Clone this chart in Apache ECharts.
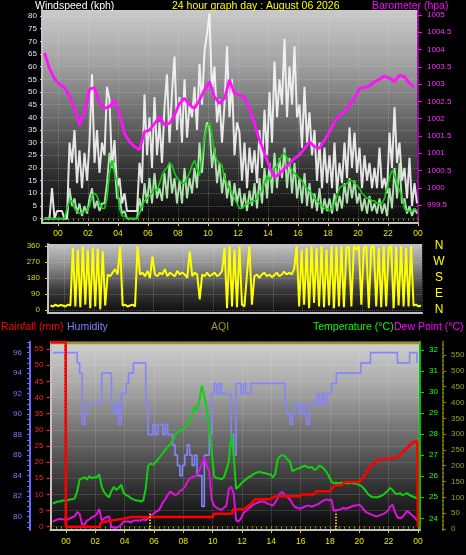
<!DOCTYPE html>
<html><head><meta charset="utf-8">
<script src="https://cdn.jsdelivr.net/npm/echarts@6/dist/echarts.min.js"></script>
<style>html,body{margin:0;padding:0;background:#000;}#c{width:466px;height:555px;}</style>
</head><body><div id="c"></div>
<script>
// ---------- tick labels ----------
const hourTicks = [0,2,4,6,8,10,12,14,16,18,20,22,24];
const windTicks = [0,5,10,15,20,25,30,35,40,45,50,55,60,65,70,75,80];
const baroTicks = [999.5,1000,1000.5,1001,1001.5,1002,1002.5,1003,1003.5,1004,1004.5,1005];
const dirTicks = [0,90,180,270,360];
const compass = ['N','E','S','W','N'];
const humTicks = [80,82,84,86,88,90,92,94,96];
const rainTicks = [0,5,10,15,20,25,30,35,40,45,50,55];
const tempTicks = [24,25,26,27,28,29,30,31,32];
const aqiTicks = [0,50,100,150,200,250,300,350,400,450,500,550];

// ---------- data (10-minute samples from t = -0.9 h) ----------
const sampleStart = -0.9, sampleStep = 1/6;
const windGust = [
0,0,0,12,0,3, 3,3,0,0,30,22, 35,14,27,12,26,15, 30,57,22,35,18,30, 25,52,47,20,31,12,
16,6,10,3,3,3, 3,3,22,14,49,25, 40,20,48,25,38,22, 44,57,30,50,64,35, 48,30,55,32,45,40,
52,35,61,45,66,73, 81,50,60,38,47,30, 45,68,40,55,25,38, 34,15,30,12,28,18, 27,14,35,20,43,25,
50,30,62,40,55,45, 71,40,60,45,68,40, 45,28,52,30,42,25, 35,15,30,12,28,14, 25,12,30,10,22,14,
30,16,36,20,34,18, 28,12,25,15,22,12, 20,12,28,12,16,10, 34,20,44,22,30,15, 20,8,24,5,14,6];
const windSpeed = [
0,0,0,0,0,0, 0,0,0,0,12,5, 8,2,6,1,5,2, 8,12,4,7,3,6, 6,14,26,20,22,8,
8,2,3,0,0,0, 0,0,8,3,14,6, 16,6,18,8,12,7, 18,8,22,10,16,6, 15,6,20,8,16,10,
20,12,30,18,32,38, 36,20,28,14,22,10, 18,8,15,5,14,6, 12,4,10,3,11,5, 14,4,16,6,20,8,
22,10,26,12,24,16, 28,12,24,10,22,8, 16,6,18,5,14,4, 10,3,12,2,8,3, 8,2,10,3,9,4,
14,6,16,8,15,6, 10,3,8,2,9,3, 6,2,8,2,6,1, 12,4,20,8,22,6, 8,2,5,1,4,2];
const windAvg = [
0,0,0,0,0,0, 0,0,0,4,7,7, 4,3,2,2,3,3, 5,9,10,9,6,4, 4,8,18,23,18,14,
4,1,1,0,0,0, 0,0,2,5,7,8, 9,10,12,11,14,17, 19,20,22,21,18,16, 15,14,14,16,18,21,
23,20,17,24,32,36, 38,33,26,23,22,21, 16,14,12,10,8,6, 4,4,5,6,6,7, 7,8,10,11,14,17,
15,17,20,21,23,25, 26,24,21,19,18,17, 16,15,13,12,11,10, 8,7,6,5,4,4, 3,4,6,9,12,13,
13,14,15,15,14,13, 12,10,9,8,8,7, 7,6,6,6,8,12, 16,19,17,14,11,9, 4,3,3,3,4,3];
const windDir = [
25,20,30,22,28,25, 20,30,25,350,20,340, 15,355,30,340,10,350, 20,345,5,330,25,200, 190,210,230,200,360,25,
30,20,25,30,20,360, 200,210,190,220,180,300, 200,190,210,200,230,190, 210,200,190,220,200,210, 200,180,330,190,210,200,
60,200,190,210,190,200, 210,190,200,220,350,10, 360,20,340,15,360,30, 20,200,360,30,190,200, 180,200,210,190,200,185,
195,210,190,200,215,200, 210,200,230,360,20,340, 30,350,10,360,40,350, 20,360,15,340,25,360, 10,355,20,360,15,350,
355,20,360,340,360,30, 350,360,10,355,360,20, 350,15,360,20,350,360, 10,355,25,360,20,350, 20,360,25,30,20,25];
const humidity = [
96,96,96,96,96,96, 96,96,96,96,95,94, 89,90,91,91,91,91, 91,91,94,94,94,94, 91,90,91,89,92,92,
93,94,94,95,95,95, 95,95,91,88,88,89, 88,89,89,88,89,88, 88,87,86,85,84,85, 86,87,86,85,86,84,
84,81,86,86,88,92, 93,92,93,92,92,92, 92,88,86,93,93,92, 93,92,92,93,93,93, 93,93,93,93,93,93,
93,93,93,93,93,91, 90,89,90,91,91,90, 91,90,89,91,91,91, 92,91,92,91,92,92, 93,93,94,94,94,94,
94,94,94,94,94,94, 95,95,95,95,96,96, 96,96,96,96,96,96, 96,96,96,95,95,95, 95,95,96,96,96,95];
const temperature = [
24.7,24.75,24.8,24.8,24.85,24.85, 24.85,24.9,24.9,24.95,25.3,25.85, 25.9,25.95,25.85,26.0,25.9,25.95,
25.95,26.1,25.5,25.25,25.1,25.0, 25.3,25.5,25.35,25.45,25.6,25.2, 25.1,25.05,24.95,24.9,24.85,24.85,
24.8,24.85,25.4,26.5,26.6,26.55, 26.65,26.8,26.95,27.1,27.25,27.4, 27.5,27.7,27.95,28.1,28.15,28.2,
28.3,28.45,28.6,28.95,29.3,29.15, 29.6,30.3,29.8,29.2,28.3,27.2, 26.0,25.9,25.9,25.85,25.95,26.3,
26.7,28.0,27.0,25.4,25.5,25.65, 25.75,25.85,25.95,26.0,26.1,26.15, 26.2,26.2,26.15,26.15,26.1,26.1,
25.95,26.1,26.8,26.95,27.0,26.95, 26.8,26.7,26.25,26.3,26.35,26.4, 26.45,26.5,26.45,26.4,26.45,26.3,
26.35,26.5,26.45,26.35,26.2,26.0, 25.75,25.65,25.7,25.65,25.7,25.65, 25.7,25.65,25.7,25.65,25.65,25.6,
25.55,25.45,25.3,25.15,25.05,25.0, 25.0,25.0,25.05,25.1,25.2,25.3, 25.45,25.35,25.2,25.15,25.2,25.1,
25.15,25.2,25.1,25.05,25.0,24.95];
const dewPoint = [
23.84,23.9,23.95,23.98,23.95,23.94, 23.95,24.0,24.05,24.1,24.3,24.2, 23.72,23.7,23.9,23.95,24.05,24.1,
24.2,24.45,23.9,24.0,24.05,24.1, 23.6,23.55,23.55,23.6,23.7,23.85, 23.85,23.85,23.8,23.9,23.9,23.9,
23.9,23.95,23.9,24.0,24.1,24.2, 24.3,24.35,24.5,24.75,24.9,25.1, 25.27,25.2,25.1,25.15,25.3,25.35,
25.5,25.7,25.9,25.95,26.0,26.05, 26.3,26.6,26.9,26.5,26.2,24.9, 24.6,24.5,24.45,24.4,24.5,24.6,
25.4,25.5,25.2,23.9,23.85,24.0, 24.25,24.35,24.45,24.55,24.65,24.7, 24.75,24.8,24.8,24.75,24.7,24.65,
24.6,24.75,24.95,25.2,25.25,25.1, 25.0,24.9,24.7,24.55,24.5,24.45, 24.5,24.55,24.6,24.6,24.55,24.6,
24.65,24.7,24.8,24.85,24.9,24.85, 24.9,24.35,24.4,24.4,24.45,24.5, 24.45,24.5,24.55,24.6,24.6,24.65,
24.6,24.45,24.3,24.25,24.2,24.15, 24.1,24.1,24.15,24.2,24.25,24.35, 24.55,24.65,24.3,24.05,24.0,24.05,
24.2,24.35,24.25,24.15,24.05,23.9];
// barometer, 20-minute samples from t = -0.9 h
const baroStart = -0.9, baroStep = 1/3;
const barometer = [
1003.9,1003.45,1003.15,1003.0,1002.9,1002.65,1002.3,1001.82,1002.2,1002.85,1002.9,1002.45,1002.3,1002.35,1002.54,
1002.15,1001.57,1001.33,1001.19,1001.1,1001.62,1001.67,1001.86,1002.06,1001.82,1001.86,1002.1,1002.44,1002.59,1002.4,
1002.3,1002.54,1002.83,1003.07,1002.63,1002.44,1002.59,1003.12,1002.73,1002.68,1002.63,1002.25,1001.86,1001.38,1001.0,
1000.6,1000.3,1000.41,1000.56,1000.7,1000.85,1000.95,1001.14,1001.33,1001.19,1001.14,1001.38,1001.62,1001.91,1002.1,
1002.2,1002.4,1002.59,1002.88,1002.9,1002.95,1003.07,1003.14,1003.23,1003.17,1003.07,1003.26,1003.21,1003.02,1002.92];
// cumulative rainfall
const rainTimes = [-1.06,-0.02,0.0,2.3,2.35,3.2,3.9,4.5,10.0,10.1,11.3,11.4,12.1,12.6,12.9,13.9,14.3,15.9,16.1,16.9,17.1,18.0,18.3,18.8,19.0,20.0,20.3,20.7,21.2,21.6,22.3,22.75,23.3,23.7,23.95,24.0];
const rainValues = [57.1,57.1,0,0,1.2,2.0,2.5,3.0,3.0,4.0,4.0,5.4,5.4,7.0,8.5,8.5,9.4,9.4,10.0,10.0,11.0,11.0,12.8,12.8,13.8,13.8,15.3,18.4,20.5,21.0,21.0,22.0,24.6,26.2,26.4,0];
const aqiTimes = [-1.06, 24.14];
const aqiValues = [588, 588];
const sunTimes = [5.7, 18.4];

// ---------- build ----------
const series1 = (start, step, arr) => arr.map((v, i) => [start + i * step, v]);
const zip = (ts, vs) => ts.map((t, i) => [t, vs[i]]);
const FONT = 'Liberation Sans';
const pad = v => String(Math.round(v) % 24).padStart(2, '0');
const plain = v => String(v);
const range = (a, b, s) => { const r = []; for (let v = a; v <= b + 1e-9; v += s) r.push(+v.toFixed(4)); return r; };
const grad = (stops) => new echarts.graphic.LinearGradient(0, 0, 0, 1, stops.map((c, i) => ({offset: i / (stops.length - 1), color: c})));
const gridLine = {show: true, lineStyle: {color: 'rgba(230,230,230,0.28)', type: 'dotted', width: 1}};
const frame = {show: true, onZero: false, lineStyle: {color: '#c4c4c4', width: 2}};

const chart = echarts.init(document.getElementById('c'), null, {width: 466, height: 555});
const option = {
  animation: false,
  backgroundColor: '#000',
  textStyle: {fontFamily: FONT},
  grid: [
    {left: 42, top: 10, width: 376, height: 213, show: true, borderWidth: 0, outerBoundsMode: 'none',
      backgroundColor: grad(['#cacaca', '#a2a2a2', '#6a6a6a', '#333333', '#060606'])},
    {left: 48, top: 244, width: 374, height: 69, show: true, borderWidth: 0, outerBoundsMode: 'none',
      backgroundColor: grad(['#c4c4c4', '#8a8a8a', '#3a3a3a', '#0c0c0c'])},
    {left: 50.5, top: 341.7, width: 369.5, height: 188.3, show: true, borderWidth: 0, outerBoundsMode: 'none',
      backgroundColor: grad(['#d0d0d0', '#a6a6a6', '#6c6c6c', '#363636', '#080808'])}
  ],
  xAxis: [
    {gridIndex: 0, type: 'value', min: -1.0667, max: 24, position: 'bottom', axisLine: frame,
      axisTick: {show: true, customValues: hourTicks, length: 3, lineStyle: {color: '#d8d800'}},
      axisLabel: {customValues: hourTicks, formatter: pad, color: '#e8e800', fontSize: 8.5, margin: 6, hideOverlap: false},
      splitLine: gridLine},
    {gridIndex: 0, type: 'value', min: -1.0667, max: 24, position: 'bottom', axisLine: {show: false},
      axisTick: {show: true, customValues: range(-1, 24, 1/3), length: 2, lineStyle: {color: '#a0a000'}},
      axisLabel: {show: false}, splitLine: {show: false}},
    {gridIndex: 1, type: 'value', min: -1.0667, max: 24, position: 'bottom', axisLine: frame,
      axisTick: {show: false, customValues: hourTicks}, axisLabel: {show: false, customValues: hourTicks},
      splitLine: gridLine},
    {gridIndex: 2, type: 'value', min: -1.057, max: 24.14, position: 'bottom', axisLine: frame,
      axisTick: {show: true, customValues: hourTicks, length: 3, lineStyle: {color: '#d8d800'}},
      axisLabel: {customValues: hourTicks, formatter: pad, color: '#e8e800', fontSize: 8.5, margin: 7, hideOverlap: false},
      splitLine: gridLine},
    {gridIndex: 2, type: 'value', min: -1.057, max: 24.14, position: 'bottom', axisLine: {show: false},
      axisTick: {show: true, customValues: range(-1, 24, 1/3), length: 2, lineStyle: {color: '#a0a000'}},
      axisLabel: {show: false}, splitLine: {show: false}}
  ],
  yAxis: [
    {gridIndex: 0, type: 'value', min: -1.74, max: 82.37, position: 'left', axisLine: frame,
      axisTick: {show: true, customValues: windTicks, length: 2, lineStyle: {color: '#c4c4c4'}},
      axisLabel: {customValues: windTicks, formatter: plain, color: '#dce6ff', fontSize: 8, margin: 5, hideOverlap: false},
      splitLine: gridLine},
    {gridIndex: 0, type: 'value', min: 998.98, max: 1005.145, position: 'right',
      axisLine: {show: true, onZero: false, lineStyle: {color: '#a000a0', width: 2, type: 'dotted'}},
      axisTick: {show: true, customValues: baroTicks, length: 4, lineStyle: {color: '#ff00ff'}},
      axisLabel: {customValues: baroTicks, formatter: plain, color: '#ff30ff', fontSize: 8, margin: 9, hideOverlap: false},
      splitLine: {show: false}},
    {gridIndex: 1, type: 'value', min: -16.9, max: 371.25, position: 'left', axisLine: frame,
      axisTick: {show: true, customValues: dirTicks, length: 3, lineStyle: {color: '#d8d800'}},
      axisLabel: {customValues: dirTicks, formatter: plain, color: '#dcdc00', fontSize: 8, margin: 8, hideOverlap: false},
      splitLine: gridLine},
    {gridIndex: 2, type: 'value', min: 78.70, max: 97.07, position: 'left', offset: 20.5,
      axisLine: {show: true, onZero: false, lineStyle: {color: '#6a6aff', width: 2}},
      axisTick: {show: true, customValues: range(79, 97, 0.5), length: 3, lineStyle: {color: '#6a6aff'}},
      axisLabel: {customValues: humTicks, formatter: plain, color: '#7a7aff', fontSize: 8, margin: 8, hideOverlap: false},
      splitLine: {show: false}},
    {gridIndex: 2, type: 'value', min: -1.02, max: 57.26, position: 'left', axisLine: frame,
      axisTick: {show: true, customValues: rainTicks, length: 4, lineStyle: {color: '#ff2020'}},
      axisLabel: {customValues: rainTicks, formatter: plain, color: '#ff2020', fontSize: 8, margin: 7, hideOverlap: false},
      splitLine: gridLine},
    {gridIndex: 2, type: 'value', min: 23.444, max: 32.395, position: 'right',
      axisLine: {show: true, onZero: false, lineStyle: {color: '#00c000', width: 2}},
      axisTick: {show: true, customValues: tempTicks, length: 4, lineStyle: {color: '#00e000'}},
      axisLabel: {customValues: tempTicks, formatter: plain, color: '#20ff20', fontSize: 8, margin: 9, hideOverlap: false},
      splitLine: {show: false}},
    {gridIndex: 2, type: 'value', min: -3.17, max: 592.2, position: 'right', offset: 23,
      axisLine: {show: true, onZero: false, lineStyle: {color: '#707000', width: 2, type: 'dotted'}},
      axisTick: {show: true, customValues: aqiTicks, length: 3, lineStyle: {color: '#8a8a10'}},
      axisLabel: {customValues: aqiTicks, formatter: plain, color: '#a0a028', fontSize: 8, margin: 8, hideOverlap: false},
      splitLine: {show: false}},
    {gridIndex: 1, type: 'value', min: -16.9, max: 371.25, position: 'right', axisLine: {show: false},
      axisTick: {show: false, customValues: dirTicks},
      axisLabel: {customValues: dirTicks, formatter: v => compass[dirTicks.indexOf(v)], color: '#ffff00',
        fontSize: 12, margin: 17, align: 'center', hideOverlap: false},
      splitLine: {show: false}},
    {gridIndex: 2, type: 'value', min: -1.02, max: 57.26, position: 'left', axisLine: {show: false},
      axisTick: {show: true, customValues: range(0, 57, 1), length: 2, lineStyle: {color: '#c01010'}},
      axisLabel: {show: false}, splitLine: {show: false}}
  ],
  series: [
    {name: 'gust', type: 'line', xAxisIndex: 0, yAxisIndex: 0, data: series1(sampleStart, sampleStep, windGust),
      showSymbol: false, lineStyle: {color: 'rgba(248,248,248,0.9)', width: 2}},
    {name: 'speed', type: 'line', xAxisIndex: 0, yAxisIndex: 0, data: series1(sampleStart, sampleStep, windSpeed),
      showSymbol: false, lineStyle: {color: 'rgba(190,245,190,0.9)', width: 1.9}},
    {name: 'avg', type: 'line', xAxisIndex: 0, yAxisIndex: 0, data: series1(sampleStart, sampleStep, windAvg),
      showSymbol: false, lineStyle: {color: '#10d010', width: 1.6}},
    {name: 'baro', type: 'line', xAxisIndex: 0, yAxisIndex: 1, data: series1(baroStart, baroStep, barometer),
      showSymbol: false, lineStyle: {color: '#ff10ff', width: 2.8}},
    {name: 'dir', type: 'line', xAxisIndex: 2, yAxisIndex: 2, data: series1(sampleStart, sampleStep, windDir),
      showSymbol: false, lineStyle: {color: '#ffff00', width: 2}},
    {name: 'aqi', type: 'line', xAxisIndex: 3, yAxisIndex: 6, data: zip(aqiTimes, aqiValues),
      showSymbol: false, lineStyle: {color: '#9a9428', width: 2.5}},
    {name: 'humidity', type: 'line', xAxisIndex: 3, yAxisIndex: 3, step: 'end', data: series1(sampleStart, sampleStep, humidity),
      showSymbol: false, lineStyle: {color: '#8484ff', width: 1.6}},
    {name: 'temp', type: 'line', xAxisIndex: 3, yAxisIndex: 5, data: series1(sampleStart, sampleStep, temperature),
      showSymbol: false, lineStyle: {color: '#10d010', width: 2}},
    {name: 'dew', type: 'line', xAxisIndex: 3, yAxisIndex: 5, data: series1(sampleStart, sampleStep, dewPoint),
      showSymbol: false, lineStyle: {color: '#e010e0', width: 2}},
    {name: 'rain', type: 'line', xAxisIndex: 3, yAxisIndex: 4, data: zip(rainTimes, rainValues),
      showSymbol: false, lineStyle: {color: '#ff0000', width: 2.5},
      markLine: {silent: true, symbol: 'none', label: {show: false},
        lineStyle: {color: '#ffff00', type: 'dotted', width: 1.5},
        data: sunTimes.map(t => [{coord: [t, -1.02]}, {coord: [t, 4.6]}])}}
  ],
  graphic: [
    {type: 'text', x: 35, y: 6, style: {text: 'Windspeed (kph)', fill: '#ffffff', font: '10.5px "Liberation Sans"', verticalAlign: 'middle'}},
    {type: 'text', x: 172, y: 6, style: {text: '24 hour graph day : August 06 2026', fill: '#ffff00', font: '10.5px "Liberation Sans"', verticalAlign: 'middle'}},
    {type: 'text', x: 372, y: 6, style: {text: 'Barometer (hpa)', fill: '#ff00ff', font: '10.5px "Liberation Sans"', verticalAlign: 'middle'}},
    {type: 'text', x: 1, y: 327, style: {text: 'Rainfall (mm)', fill: '#ff0000', font: '10.5px "Liberation Sans"', verticalAlign: 'middle'}},
    {type: 'text', x: 67, y: 327, style: {text: 'Humidity', fill: '#8080ff', font: '10.5px "Liberation Sans"', verticalAlign: 'middle'}},
    {type: 'text', x: 220, y: 327, style: {text: 'AQI', fill: '#a09a20', font: '10.5px "Liberation Sans"', align: 'center', verticalAlign: 'middle'}},
    {type: 'text', x: 313, y: 327, style: {text: 'Temperature (°C)', fill: '#00ff00', font: '10.5px "Liberation Sans"', verticalAlign: 'middle'}},
    {type: 'text', x: 394, y: 327, style: {text: 'Dew Point (°C)', fill: '#ff00ff', font: '10.5px "Liberation Sans"', verticalAlign: 'middle'}}
  ]
};
chart.setOption(option);
</script></body></html>
